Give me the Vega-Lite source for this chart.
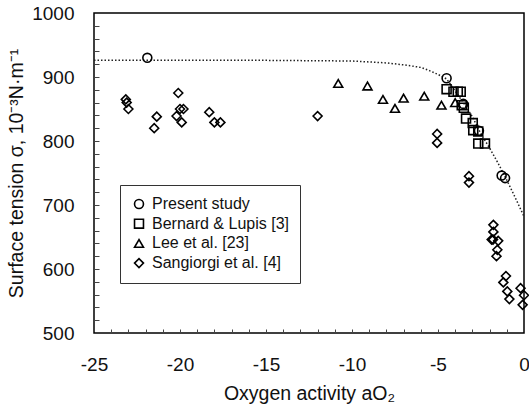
{
  "$schema": "https://vega.github.io/schema/vega-lite/v6.json",
  "autosize": {"type": "none"},
  "width": 430,
  "height": 320,
  "padding": {"left": 94, "top": 13, "right": 5, "bottom": 83},
  "config": {
    "view": {"stroke": "black", "strokeWidth": 1.5},
    "font": "Liberation Sans",
    "axis": {"grid": false, "domain": false, "labelFont": "Liberation Sans", "titleFont": "Liberation Sans", "labelColor": "#111", "titleColor": "#111", "titleFontWeight": "normal", "tickColor": "#444", "tickWidth": 1}
  },
  "datasets": {
    "curve": [
      {"x": -25, "y": 926}, {"x": -15, "y": 926}, {"x": -10, "y": 925}, {"x": -8, "y": 922},
      {"x": -7, "y": 919}, {"x": -6, "y": 915}, {"x": -5.5, "y": 910}, {"x": -5, "y": 904},
      {"x": -4.5, "y": 897}, {"x": -4, "y": 878}, {"x": -3.5, "y": 859}, {"x": -3, "y": 838},
      {"x": -2.5, "y": 811}, {"x": -2, "y": 789}, {"x": -1.5, "y": 765}, {"x": -1, "y": 739},
      {"x": -0.5, "y": 711}, {"x": 0, "y": 682}
    ],
    "pts": [
      {"s": "Present study", "x": -21.9, "y": 930},
      {"s": "Present study", "x": -4.5, "y": 898},
      {"s": "Present study", "x": -3.53, "y": 858},
      {"s": "Present study", "x": -2.62, "y": 816},
      {"s": "Present study", "x": -1.3, "y": 746},
      {"s": "Present study", "x": -1.1, "y": 742},
      {"s": "Bernard & Lupis [3]", "x": -4.5, "y": 881},
      {"s": "Bernard & Lupis [3]", "x": -4.1, "y": 877},
      {"s": "Bernard & Lupis [3]", "x": -3.85, "y": 877},
      {"s": "Bernard & Lupis [3]", "x": -3.68, "y": 877},
      {"s": "Bernard & Lupis [3]", "x": -3.62, "y": 856},
      {"s": "Bernard & Lupis [3]", "x": -3.5, "y": 852},
      {"s": "Bernard & Lupis [3]", "x": -3.37, "y": 835},
      {"s": "Bernard & Lupis [3]", "x": -2.98, "y": 828},
      {"s": "Bernard & Lupis [3]", "x": -2.95, "y": 817},
      {"s": "Bernard & Lupis [3]", "x": -2.66, "y": 815},
      {"s": "Bernard & Lupis [3]", "x": -2.66, "y": 796},
      {"s": "Bernard & Lupis [3]", "x": -2.27, "y": 796},
      {"s": "Lee et al. [23]", "x": -10.8, "y": 890},
      {"s": "Lee et al. [23]", "x": -9.1, "y": 886},
      {"s": "Lee et al. [23]", "x": -8.2, "y": 865},
      {"s": "Lee et al. [23]", "x": -7.5, "y": 851},
      {"s": "Lee et al. [23]", "x": -7.0, "y": 867},
      {"s": "Lee et al. [23]", "x": -5.8, "y": 870},
      {"s": "Lee et al. [23]", "x": -4.8, "y": 856},
      {"s": "Lee et al. [23]", "x": -4.0, "y": 860},
      {"s": "Sangiorgi et al. [4]", "x": -23.15, "y": 865},
      {"s": "Sangiorgi et al. [4]", "x": -23.1, "y": 860},
      {"s": "Sangiorgi et al. [4]", "x": -23.0, "y": 850},
      {"s": "Sangiorgi et al. [4]", "x": -21.35, "y": 838},
      {"s": "Sangiorgi et al. [4]", "x": -21.5, "y": 820},
      {"s": "Sangiorgi et al. [4]", "x": -20.1, "y": 875},
      {"s": "Sangiorgi et al. [4]", "x": -20.0, "y": 850},
      {"s": "Sangiorgi et al. [4]", "x": -19.8, "y": 850},
      {"s": "Sangiorgi et al. [4]", "x": -20.2, "y": 839},
      {"s": "Sangiorgi et al. [4]", "x": -19.9, "y": 829},
      {"s": "Sangiorgi et al. [4]", "x": -18.3, "y": 845},
      {"s": "Sangiorgi et al. [4]", "x": -18.0, "y": 829},
      {"s": "Sangiorgi et al. [4]", "x": -17.65, "y": 829},
      {"s": "Sangiorgi et al. [4]", "x": -12.0, "y": 839},
      {"s": "Sangiorgi et al. [4]", "x": -5.05, "y": 811},
      {"s": "Sangiorgi et al. [4]", "x": -5.05, "y": 797},
      {"s": "Sangiorgi et al. [4]", "x": -3.2, "y": 745},
      {"s": "Sangiorgi et al. [4]", "x": -3.2, "y": 735},
      {"s": "Sangiorgi et al. [4]", "x": -1.78, "y": 669},
      {"s": "Sangiorgi et al. [4]", "x": -1.78, "y": 658},
      {"s": "Sangiorgi et al. [4]", "x": -1.88, "y": 646},
      {"s": "Sangiorgi et al. [4]", "x": -1.8, "y": 646},
      {"s": "Sangiorgi et al. [4]", "x": -1.5, "y": 644},
      {"s": "Sangiorgi et al. [4]", "x": -1.55, "y": 630},
      {"s": "Sangiorgi et al. [4]", "x": -1.6, "y": 620},
      {"s": "Sangiorgi et al. [4]", "x": -1.05, "y": 589},
      {"s": "Sangiorgi et al. [4]", "x": -1.2, "y": 579},
      {"s": "Sangiorgi et al. [4]", "x": -0.97, "y": 565},
      {"s": "Sangiorgi et al. [4]", "x": -0.85, "y": 553},
      {"s": "Sangiorgi et al. [4]", "x": -0.2, "y": 570},
      {"s": "Sangiorgi et al. [4]", "x": 0, "y": 559},
      {"s": "Sangiorgi et al. [4]", "x": -0.08, "y": 544}
    ]
  },
  "layer": [
    {
      "data": {"name": "curve"},
      "mark": {"type": "line", "color": "#222", "strokeWidth": 1.5, "strokeDash": [1.5, 2]},
      "encoding": {
        "x": {"field": "x", "type": "quantitative", "scale": {"domain": [-25, 0], "nice": false},
          "axis": {"orient": "bottom", "values": [-24,-23,-22,-21,-20,-19,-18,-17,-16,-15,-14,-13,-12,-11,-10,-9,-8,-7,-6,-5,-4,-3,-2,-1], "tickSize": -4, "labels": false, "title": null}},
        "y": {"field": "y", "type": "quantitative", "scale": {"domain": [500, 1000], "nice": false, "zero": false},
          "axis": {"orient": "left", "values": [520,540,560,580,600,620,640,660,680,700,720,740,760,780,800,820,840,860,880,900,920,940,960,980], "tickSize": -5, "labels": false, "title": null}}
      }
    },
    {
      "data": {"name": "pts"},
      "mark": {"type": "point", "filled": false, "stroke": "black", "strokeWidth": 1.6, "opacity": 1},
      "encoding": {
        "x": {"field": "x", "type": "quantitative",
          "axis": {"orient": "bottom", "values": [-25,-20,-15,-10,-5,0], "ticks": false, "labelPadding": 22, "labelFontSize": 19, "labelFlush": false, "labelExpr": "'' + datum.value", "title": "Oxygen activity aO₂", "titleFontSize": 19.5, "titlePadding": 10}},
        "y": {"field": "y", "type": "quantitative",
          "axis": {"orient": "left", "values": [500,600,700,800,900,1000], "ticks": false, "labelPadding": 20, "labelFontSize": 19, "labelFlush": false, "labelExpr": "'' + datum.value", "title": "Surface tension σ, 10⁻³N·m⁻¹", "titleFontSize": 19.5, "titlePadding": 5}},
        "shape": {"field": "s", "type": "nominal",
          "scale": {"domain": ["Present study", "Bernard & Lupis [3]", "Lee et al. [23]", "Sangiorgi et al. [4]"], "range": ["circle", "square", "triangle-up", "diamond"]},
          "legend": {"title": null, "orient": "none", "legendX": 26, "legendY": 172, "strokeColor": "#333", "padding": 11, "labelFontSize": 16, "labelFont": "Liberation Sans", "labelColor": "#111", "symbolSize": 80, "symbolStrokeWidth": 1.6, "symbolStrokeColor": "black", "symbolFillColor": "transparent", "rowPadding": 3.7, "labelOffset": 5, "symbolOffset": 0}
        },
        "size": {"value": 80}
      }
    }
  ],
  "resolve": {"axis": {"x": "independent", "y": "independent"}}
}
